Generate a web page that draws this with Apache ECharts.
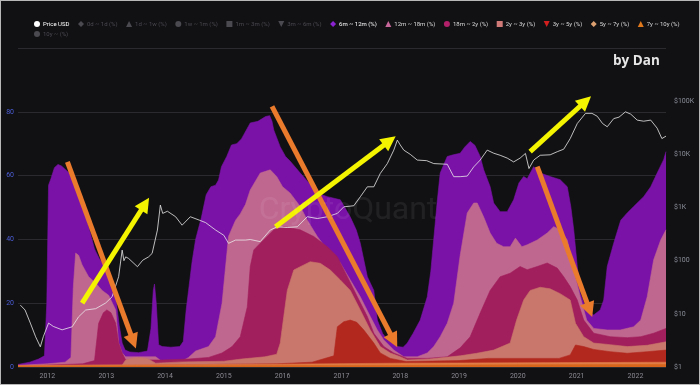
<!DOCTYPE html>
<html><head><meta charset="utf-8">
<script src="https://cdn.jsdelivr.net/npm/echarts@6/dist/echarts.min.js"></script>
<style>
html,body{margin:0;padding:0;background:#b8b8b8;}
#c{position:absolute;left:1px;top:1px;width:698px;height:383px;background:#111114;}
</style></head>
<body><div id="c"></div>
<script>
// ---- data (x = decimal year) ----
const legendNames = ['Price USD','0d ~ 1d (%)','1d ~ 1w (%)','1w ~ 1m (%)','1m ~ 3m (%)','3m ~ 6m (%)','6m ~ 12m (%)','12m ~ 18m (%)','18m ~ 2y (%)','2y ~ 3y (%)','3y ~ 5y (%)','5y ~ 7y (%)','7y ~ 10y (%)','10y ~ (%)'];
const leftTicks = [0,20,40,60,80];
const rightTicks = ['$1','$10','$100','$1K','$10K','$100K'];

const w6m12m = [[2011.50,0.8],[2011.70,1.5],[2011.85,2.5],[2011.95,3.5],[2011.99,20],[2012.02,57],[2012.06,59],[2012.12,62.5],[2012.18,63.5],[2012.24,63],[2012.30,62],[2012.36,61],[2012.45,58],[2012.52,56],[2012.59,52],[2012.70,44],[2012.80,37],[2012.88,34],[2012.96,32],[2013.04,30.4],[2013.12,26],[2013.16,22],[2013.22,13],[2013.27,7.5],[2013.32,5.3],[2013.40,4.7],[2013.55,4.5],[2013.70,5],[2013.76,12],[2013.80,24],[2013.82,26],[2013.85,20],[2013.89,7],[2013.95,6.4],[2014.10,6.2],[2014.25,6.4],[2014.31,8],[2014.36,18],[2014.40,24],[2014.46,33],[2014.52,40],[2014.62,47],[2014.70,54],[2014.78,56.5],[2014.86,57],[2014.91,58.6],[2014.96,62.8],[2015.05,66],[2015.13,69.6],[2015.22,70],[2015.30,71.5],[2015.45,76.5],[2015.58,77],[2015.71,78.5],[2015.78,78.8],[2015.82,77],[2015.85,74.3],[2015.96,69],[2016.05,66],[2016.13,64.5],[2016.30,60.8],[2016.40,58.7],[2016.59,54.5],[2016.76,53.4],[2016.98,52.4],[2017.15,47],[2017.25,43],[2017.32,38.8],[2017.44,28.3],[2017.55,24],[2017.61,14.7],[2017.70,10.5],[2017.78,8.5],[2017.95,6.4],[2018.05,6.2],[2018.12,7.5],[2018.22,10.6],[2018.34,14.7],[2018.46,22],[2018.52,30],[2018.57,40],[2018.63,52],[2018.68,60.8],[2018.80,66],[2018.90,66.5],[2019.02,67],[2019.10,69],[2019.19,70.7],[2019.27,69.5],[2019.36,66],[2019.42,61.8],[2019.53,56.5],[2019.59,51.4],[2019.70,48.7],[2019.82,48.7],[2019.93,52.4],[2020.02,57.7],[2020.10,59.7],[2020.16,59],[2020.27,62.8],[2020.38,60.8],[2020.55,59.7],[2020.72,58.7],[2020.84,56.5],[2020.90,50.3],[2020.95,43],[2021.01,31.5],[2021.06,23.1],[2021.17,17.9],[2021.29,16.3],[2021.40,17.9],[2021.46,21],[2021.52,31.5],[2021.63,38.8],[2021.75,46],[2021.86,48.3],[2021.97,50.3],[2022.14,53.4],[2022.26,56.5],[2022.37,60.8],[2022.48,65],[2022.52,67.5]];

const w12m18m = [[2011.50,0.5],[2012.0,1.0],[2012.30,1.5],[2012.40,3],[2012.44,25],[2012.48,35.7],[2012.53,35],[2012.59,32],[2012.70,28.3],[2012.82,26.3],[2012.93,24],[2013.04,22.5],[2013.16,17.9],[2013.21,7.5],[2013.27,4.4],[2013.33,3.2],[2013.84,3.2],[2013.95,1.7],[2014.29,1.8],[2014.40,3],[2014.52,5],[2014.74,6.4],[2014.86,9.5],[2014.97,20],[2015.08,40.9],[2015.20,46],[2015.28,48],[2015.37,51],[2015.45,55.5],[2015.62,60.8],[2015.79,61.8],[2015.90,59.7],[2016.00,56.5],[2016.13,54.5],[2016.30,50.3],[2016.42,46],[2016.59,40.9],[2016.76,36.7],[2016.98,32.6],[2017.15,27.3],[2017.32,22],[2017.49,15.8],[2017.61,11.6],[2017.72,8.5],[2017.89,5.3],[2018.06,3.2],[2018.29,3.2],[2018.46,4.4],[2018.57,6.4],[2018.68,9.5],[2018.80,13.7],[2018.91,20],[2019.02,35],[2019.14,48.3],[2019.25,51.4],[2019.31,51.4],[2019.42,47],[2019.53,42],[2019.64,38.8],[2019.76,37.7],[2019.87,37.7],[2019.96,40.4],[2020.07,37.7],[2020.16,38.3],[2020.33,39.8],[2020.50,42],[2020.61,44],[2020.72,43],[2020.84,39.8],[2020.95,30.4],[2021.06,22],[2021.17,14.7],[2021.29,12.1],[2021.52,11.6],[2021.74,11.6],[2021.97,12.6],[2022.09,14.7],[2022.20,22],[2022.31,33.6],[2022.43,39.8],[2022.52,43]];

const w18m2y = [[2011.50,0.3],[2012.0,0.6],[2012.6,1.0],[2012.80,2],[2012.87,13.7],[2012.95,17],[2013.01,17.9],[2013.08,17],[2013.16,13.7],[2013.21,7.5],[2013.27,4.4],[2013.33,2.2],[2013.95,2.2],[2014.40,2.5],[2014.74,3.0],[2014.97,4.4],[2015.14,6.4],[2015.28,9.5],[2015.40,18.9],[2015.45,31.5],[2015.51,36.7],[2015.62,38.8],[2015.85,43],[2016.02,44],[2016.30,43],[2016.53,40.9],[2016.76,37.7],[2016.93,34.6],[2017.10,28.3],[2017.27,22],[2017.44,15.8],[2017.55,10.6],[2017.72,6.4],[2017.89,4.4],[2018.12,2.7],[2018.46,2.7],[2018.80,3.2],[2019.02,6],[2019.19,9.5],[2019.36,16.9],[2019.53,24],[2019.70,28.3],[2019.87,29.4],[2020.04,31.5],[2020.16,30.5],[2020.33,31.5],[2020.50,32.6],[2020.67,31],[2020.78,28.3],[2020.89,25.2],[2021.01,21],[2021.12,14.7],[2021.29,10.6],[2021.57,9.5],[2021.86,9.2],[2022.09,9.5],[2022.31,10.6],[2022.52,12.1]];

const w2y3y = [[2011.50,0.3],[2013.27,0.6],[2013.33,2.2],[2013.45,2.8],[2013.55,3.0],[2013.70,2.7],[2013.84,1.2],[2014.30,1.6],[2015.00,1.8],[2015.30,2.5],[2015.70,3.2],[2015.90,4],[2015.96,7.5],[2016.02,15.8],[2016.08,24],[2016.19,30.4],[2016.36,32],[2016.47,33],[2016.64,32.5],[2016.81,30.4],[2016.98,27.3],[2017.15,24],[2017.32,17.9],[2017.49,11.6],[2017.66,6.4],[2017.83,4.4],[2018.00,3.2],[2018.12,2.2],[2018.50,2.5],[2019.02,3.5],[2019.30,4.3],[2019.59,5.3],[2019.87,7.5],[2019.98,14.7],[2020.10,21],[2020.21,24],[2020.38,25],[2020.55,24.5],[2020.72,23],[2020.89,21],[2020.98,13.7],[2021.12,9.5],[2021.29,7.5],[2021.57,7],[2021.86,6.4],[2022.20,6.8],[2022.52,7.9]];

const w3y5y = [[2011.50,0.2],[2015.90,1.0],[2016.50,1.5],[2016.87,3.5],[2016.93,12.6],[2017.04,14.2],[2017.15,14.7],[2017.26,14.0],[2017.38,11.6],[2017.55,7.5],[2017.66,4.4],[2017.83,2.7],[2018.10,1.7],[2019.00,2.0],[2019.50,2.7],[2020.70,2.7],[2020.89,3.8],[2020.98,6.9],[2021.12,6.4],[2021.29,5.5],[2021.57,4.8],[2021.86,4.3],[2022.20,4.8],[2022.52,5.3]];

const w5y7y = [[2011.50,0.5],[2014.0,0.7],[2016.0,0.9],[2018.0,1.2],[2020.0,1.3],[2022.52,1.5]];
const w7y10y = [[2011.50,0.3],[2014.0,0.4],[2017.0,0.5],[2020.0,0.7],[2022.52,0.8]];

const priceUSD = [[2011.54,14.6],[2011.62,11.8],[2011.71,6.7],[2011.80,3.7],[2011.88,2.4],[2011.93,3.7],[2012.02,6.7],[2012.10,5.8],[2012.25,5],[2012.42,5.7],[2012.53,8.8],[2012.65,11.8],[2012.82,12.5],[2012.99,16],[2013.10,21],[2013.21,50],[2013.27,158],[2013.30,100],[2013.33,118],[2013.38,110],[2013.53,77],[2013.62,102],[2013.72,118],[2013.78,137],[2013.87,377],[2013.92,1110],[2013.96,775],[2014.04,850],[2014.18,670],[2014.29,465],[2014.43,670],[2014.58,580],[2014.69,520],[2014.86,377],[2015.00,300],[2015.08,212],[2015.20,244],[2015.37,244],[2015.45,250],[2015.62,228],[2015.79,377],[2015.91,434],[2016.08,420],[2016.25,434],[2016.42,670],[2016.59,620],[2016.76,670],[2016.93,775],[2017.04,1030],[2017.21,1080],[2017.32,1590],[2017.44,2450],[2017.55,2450],[2017.66,4370],[2017.78,6700],[2017.89,12000],[2017.95,18500],[2018.00,15000],[2018.06,12000],[2018.17,10000],[2018.29,7800],[2018.45,7600],[2018.57,6700],[2018.80,6500],[2018.91,3800],[2019.02,3800],[2019.14,3900],[2019.25,5800],[2019.36,7800],[2019.48,12000],[2019.59,10500],[2019.70,9600],[2019.82,8500],[2019.93,7200],[2020.04,8500],[2020.13,10400],[2020.19,5400],[2020.27,7800],[2020.38,9600],[2020.55,9800],[2020.67,11200],[2020.78,12500],[2020.89,19800],[2021.01,38000],[2021.15,59000],[2021.26,59000],[2021.35,52000],[2021.44,38000],[2021.52,33000],[2021.63,47000],[2021.72,50000],[2021.83,63000],[2021.92,57000],[2022.03,44000],[2022.14,42000],[2022.26,44000],[2022.37,31000],[2022.45,19800],[2022.52,22000]];

// annotation arrows: [x1, y1, x2, y2, color]
const arrows = [
  [2012.34,64.3,2013.46,8.0,'#ea7a2c'],
  [2012.59,20.0,2013.66,51.1,'#f4f400'],
  [2015.82,81.7,2017.89,8.3,'#ea7a2c'],
  [2015.88,44.0,2017.82,70.9,'#f4f400'],
  [2020.21,67.5,2021.15,83.3,'#f4f400'],
  [2020.33,62.8,2021.22,17.9,'#ea7a2c']
];

// ---- helpers ----
const toTime = y => { const Y = Math.floor(y); const a = Date.UTC(Y,0,1), b = Date.UTC(Y+1,0,1); return a + (y - Y) * (b - a); };
const conv = arr => arr.map(p => [toTime(p[0]), p[1]]);

const colors = {
  '6m ~ 12m (%)':'#7b12a8', '12m ~ 18m (%)':'#c06790', '18m ~ 2y (%)':'#a11f5c',
  '2y ~ 3y (%)':'#c9766c', '3y ~ 5y (%)':'#b2281f', '5y ~ 7y (%)':'#e07d48', '7y ~ 10y (%)':'#d7661c'
};
const iconColors = {
  '6m ~ 12m (%)':'#8a22d0', '12m ~ 18m (%)':'#c8689a', '18m ~ 2y (%)':'#b3206a',
  '2y ~ 3y (%)':'#d07a78', '3y ~ 5y (%)':'#d41f1f', '5y ~ 7y (%)':'#dca070', '7y ~ 10y (%)':'#e0781c'
};
const areaData = {
  '6m ~ 12m (%)': w6m12m, '12m ~ 18m (%)': w12m18m, '18m ~ 2y (%)': w18m2y,
  '2y ~ 3y (%)': w2y3y, '3y ~ 5y (%)': w3y5y, '5y ~ 7y (%)': w5y7y, '7y ~ 10y (%)': w7y10y
};
const icons = ['circle','diamond','triangle','circle','rect','path://M0,0L10,0L5,10Z','diamond','triangle','circle','rect','path://M0,0L10,0L5,10Z','diamond','triangle','circle'];

const series = [];
const selected = {};
['0d ~ 1d (%)','1d ~ 1w (%)','1w ~ 1m (%)','1m ~ 3m (%)','3m ~ 6m (%)','10y ~ (%)'].forEach(n => {
  selected[n] = false;
  series.push({name:n, type:'line', data:[], itemStyle:{color:'#555'}});
});
Object.keys(areaData).forEach((n,i) => {
  series.push({
    name:n, type:'line', yAxisIndex:0, data:conv(areaData[n]), showSymbol:false, symbol:'none',
    lineStyle:{width:0.6, color:colors[n]}, itemStyle:{color:iconColors[n]},
    areaStyle:{color:colors[n], opacity:1}, z:2+i*0.01, silent:true
  });
});
series.push({
  name:'Price USD', type:'line', yAxisIndex:1, data:conv(priceUSD), showSymbol:false, symbol:'none',
  lineStyle:{width:0.8, color:'#e8e8e8'}, itemStyle:{color:'#ffffff'}, z:4, silent:true
});
series.push({
  name:'arrows', type:'line', yAxisIndex:0, data:[], z:6, silent:true,
  markLine:{
    silent:true, symbol:['none','triangle'], symbolSize:[15,15], label:{show:false},
    emphasis:{disabled:true}, animation:false,
    data: arrows.map(a => [
      {coord:[toTime(a[0]), a[1]], lineStyle:{color:a[4], width:5, type:'solid'}, itemStyle:{color:a[4]}},
      {coord:[toTime(a[2]), a[3]]}
    ])
  }
});

const row1 = legendNames.slice(0,13).map((n,i) => ({name:n, icon:icons[i], textStyle:{color: (n==='Price USD'||n==='6m ~ 12m (%)') ? '#ffffff' : '#d8d8d8'}}));
const row2 = [{name:'10y ~ (%)', icon:'circle'}];

const chart = echarts.init(document.getElementById('c'), null, {renderer:'canvas'});
chart.setOption({
  animation:false,
  backgroundColor:'#111114',
  textStyle:{fontFamily:'Roboto'},
  grid:{left:17, right:33, top:47, bottom:17},
  legend:[
    {data:row1, left:28, top:15, width:680, itemWidth:6, itemHeight:6, itemGap:8.5, selected:selected,
     inactiveColor:'#4a4a50', textStyle:{fontSize:6, color:'#d8d8d8', padding:[0,0,0,-2]}},
    {data:row2, left:28, top:25, itemWidth:6, itemHeight:6, selected:selected,
     inactiveColor:'#4a4a50', textStyle:{fontSize:6, padding:[0,0,0,-2]}}
  ],
  xAxis:{
    type:'time', min:toTime(2011.5), max:toTime(2022.52), splitNumber:11,
    minInterval:365*864e5,
    axisLine:{show:false}, axisTick:{show:false}, splitLine:{show:false},
    axisLabel:{color:'#8a8a92', fontSize:7, margin:6, formatter: v => String(new Date(v).getUTCFullYear())}
  },
  yAxis:[
    {type:'value', min:0, max:100, interval:20, position:'left',
     axisLine:{show:false}, axisTick:{show:false},
     axisLabel:{color:'#4d5ed6', fontSize:7, margin:4, showMaxLabel:false, formatter: v => leftTicks.includes(v) ? String(v) : ''},
     splitLine:{lineStyle:{color:'#2a2a2f', width:1}}},
    {type:'log', logBase:10, min:1, max:1e6, position:'right',
     axisLine:{show:false}, axisTick:{show:false}, splitLine:{show:false},
     axisLabel:{color:'#8c8f99', fontSize:7, margin:8, showMaxLabel:false,
       formatter: v => { const i = Math.round(Math.log10(v)); return rightTicks[i] !== undefined ? rightTicks[i] : ''; }}}
  ],
  graphic:[
    {type:'text', left:612, top:53, z:10, style:{text:'by Dan', fill:'#e6e6e6', font:'bold 13.5px "Open Sans"'}},
    {type:'text', x:347, y:210, z:10, silent:true, style:{text:'CryptoQuant', fill:'rgba(255,255,255,0.07)', font:'32px Roboto', align:'center', verticalAlign:'middle'}}
  ],
  series: series
});
</script></body></html>
